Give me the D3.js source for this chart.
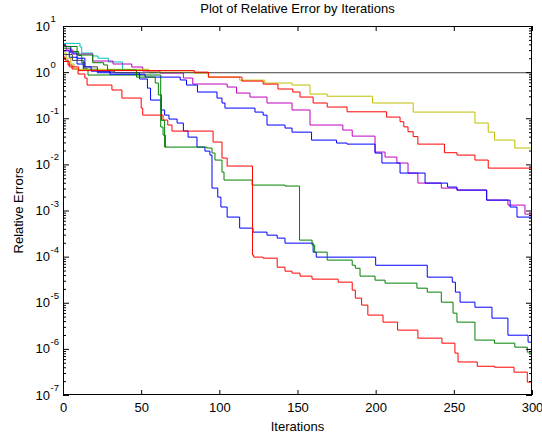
<!DOCTYPE html>
<html>
<head>
<meta charset="utf-8">
<script src="https://cdn.jsdelivr.net/npm/d3@7/dist/d3.min.js"></script>
<style>
  html, body { margin: 0; padding: 0; background: #fff; }
  svg { display: block; font-family: "Liberation Sans", Arial, sans-serif; }
</style>
</head>
<body>
<svg id="chart" width="542" height="436"></svg>
<script>
// ---------- data (iteration where a new value starts, relative error) ----------
const iterTicks = [0, 50, 100, 150, 200, 250, 300];
const yTickExps = [-7, -6, -5, -4, -3, -2, -1, 0, 1];

const blue1Iter = [0, 4, 9, 13, 22, 49, 54, 56, 62.7, 65, 67.8, 73, 77, 80, 85.7, 90.8, 94, 95.3, 99, 101, 105, 113, 121.5, 130.5, 137, 142, 160, 162, 200, 233, 249, 251, 254, 263.5, 274.4, 284.6, 297.5, 300];
const blue1Err  = [2.9, 2.1, 1.5, 1.15, 0.97, 0.71, 0.45, 0.248, 0.151, 0.117, 0.096, 0.0787, 0.053, 0.039, 0.0237, 0.0194, 0.0159, 0.00306, 0.00195, 0.00119, 7.2e-4, 4.15e-4, 3.4e-4, 2.92e-4, 2.52e-4, 1.96e-4, 1.25e-4, 9.75e-5, 6.5e-5, 3.59e-5, 2.8e-5, 1.7e-5, 1.03e-5, 8.0e-6, 4.64e-6, 1.98e-6, 1.4e-6, 1.4e-6];

const green1Iter = [0, 5, 10, 12, 14, 16, 62.5, 64, 65.5, 92, 95.3, 97.2, 101.7, 103, 121, 142, 151.3, 159.3, 161, 169, 185, 187, 190, 199.6, 206, 226.4, 233, 242, 249.5, 252, 263.5, 276, 289, 297, 300];
const green1Err  = [3.3, 2.8, 2.3, 1.6, 1.17, 0.865, 0.0646, 0.0432, 0.0237, 0.0226, 0.0176, 0.0124, 0.0068, 0.00457, 0.00356, 0.00339, 2.28e-4, 1.78e-4, 1.25e-4, 8.4e-5, 6.5e-5, 5.6e-5, 3.78e-5, 3.09e-5, 2.66e-5, 2.07e-5, 1.7e-5, 1.03e-5, 5.95e-6, 3.8e-6, 1.55e-6, 1.33e-6, 1.09e-6, 8.5e-7, 8.5e-7];

const red1Iter = [0, 1.3, 3.2, 5.8, 9.6, 14, 15.4, 31.3, 37.7, 50, 51, 64, 67, 69.7, 96, 101.7, 105, 121.2, 122, 128, 137, 142, 146.5, 151.6, 159.3, 176, 185, 187, 191, 195, 204.7, 214, 227, 242.4, 250.7, 252.7, 265, 276, 288.5, 297, 300];
const red1Err  = [2.13, 1.83, 1.43, 1.17, 0.91, 0.745, 0.525, 0.41, 0.274, 0.166, 0.117, 0.0914, 0.0713, 0.0527, 0.0305, 0.0137, 0.0092, 1.08e-4, 9.75e-5, 9.27e-5, 5.9e-5, 4.84e-5, 4.39e-5, 3.78e-5, 3.25e-5, 2.8e-5, 1.88e-5, 1.26e-5, 8.9e-6, 5.4e-6, 3.8e-6, 2.55e-6, 1.71e-6, 1.33e-6, 8.1e-7, 5.2e-7, 4.2e-7, 4.0e-7, 3.13e-7, 1.9e-7, 1.9e-7];

const cyanIter = [0, 10.9, 12, 19, 22.4, 29, 38, 55, 60];
const cyanErr  = [4.2, 3.5, 2.6, 2.24, 2.0, 1.66, 1.11, 0.97, 0.97];

const magentaIter = [0, 2, 6.4, 19, 32, 44, 51, 62, 77, 83, 105, 111, 119.6, 130.5, 146.5, 158, 179, 185, 199.6, 206, 213.6, 220.7, 227, 242, 252, 271, 284.6, 295.5, 300];
const magentaErr  = [3.8, 3.0, 2.47, 1.74, 1.5, 1.29, 1.06, 0.955, 0.745, 0.552, 0.475, 0.352, 0.288, 0.214, 0.151, 0.0713, 0.0555, 0.041, 0.0185, 0.0144, 0.0107, 0.00648, 0.00393, 0.00306, 0.00277, 0.00168, 0.00131, 8.35e-4, 8.35e-4];

const yellowIter = [0, 2, 5, 7, 55, 84, 93, 113, 129, 146.5, 158, 169, 198, 224, 263.5, 272, 276, 289, 300];
const yellowErr  = [2.6, 2.0, 1.5, 1.15, 1.0, 0.95, 0.78, 0.67, 0.58, 0.525, 0.335, 0.30, 0.214, 0.136, 0.0787, 0.050, 0.0336, 0.0226, 0.0226];

const blackIter = [0, 6, 13, 22, 33, 300];
const blackErr  = [2.4, 1.8, 1.3, 1.05, 0.97, 0.97];

const blue2Iter = [0, 5, 9, 14, 18, 30, 52.5, 75, 79, 86, 98.5, 101.7, 103.6, 122.8, 128, 130.5, 142, 146.5, 159, 175, 181.7, 199.6, 204, 215.6, 231.6, 246, 252, 271, 286, 290.4, 300];
const blue2Err  = [3.6, 2.6, 2.0, 1.3, 1.05, 0.9, 0.78, 0.675, 0.525, 0.37, 0.274, 0.214, 0.166, 0.136, 0.117, 0.0713, 0.0613, 0.050, 0.0336, 0.029, 0.0275, 0.0176, 0.0107, 0.00648, 0.00393, 0.00322, 0.00277, 0.00168, 0.00119, 7.2e-4, 7.2e-4];

const green2Iter = [0, 9, 19, 26, 28.5, 47, 59, 61, 63, 65, 66];
const green2Err  = [3.6, 2.35, 1.6, 1.43, 1.11, 0.78, 0.58, 0.32, 0.09, 0.0237, 0.0237];

const red2Iter = [0, 4, 10, 84, 93, 114.5, 128, 137.5, 147, 151.6, 160, 169, 181.7, 207, 215.6, 218, 220.7, 224, 227, 244, 252, 263.5, 272, 300];
const red2Err  = [1.7, 1.3, 1.08, 1.0, 0.78, 0.64, 0.55, 0.43, 0.37, 0.288, 0.214, 0.175, 0.138, 0.106, 0.084, 0.065, 0.051, 0.04, 0.0275, 0.0179, 0.0159, 0.0124, 0.0083, 0.0083];

const seriesColors = ["#0000ff", "#008000", "#ff0000", "#00bfbf", "#bf00bf", "#bfbf00", "#404040", "#0000ff", "#008000", "#ff0000"];
const seriesIters = [blue1Iter, green1Iter, red1Iter, cyanIter, magentaIter, yellowIter, blackIter, blue2Iter, green2Iter, red2Iter];
const seriesErrs  = [blue1Err, green1Err, red1Err, cyanErr, magentaErr, yellowErr, blackErr, blue2Err, green2Err, red2Err];

// ---------- layout ----------
const W = 542, H = 436;
const m = { left: 63, right: 10, top: 26, bottom: 41 };
const pw = W - m.left - m.right, ph = H - m.top - m.bottom;

const svg = d3.select("#chart");
svg.append("rect").attr("width", W).attr("height", H).attr("fill", "#fff");

const x = d3.scaleLinear().domain([0, 300]).range([m.left, m.left + pw]);
const y = d3.scaleLog().domain([1e-7, 10]).range([m.top + ph, m.top]);

svg.append("defs").append("clipPath").attr("id", "clip")
  .append("rect").attr("x", m.left).attr("y", m.top).attr("width", pw).attr("height", ph);

// ---------- lines ----------
const line = d3.line()
  .x(d => x(d[0]))
  .y(d => y(d[1]))
  .curve(d3.curveStepAfter);

const gLines = svg.append("g").attr("clip-path", "url(#clip)");
seriesIters.forEach((it, i) => {
  const pts = it.map((v, j) => [v, seriesErrs[i][j]]);
  gLines.append("path")
    .attr("d", line(pts))
    .attr("fill", "none")
    .attr("stroke", seriesColors[i])
    .attr("stroke-width", 1);
});

// ---------- axes ----------
const majors = yTickExps.map(e => Math.pow(10, e));
const minors = [];
yTickExps.slice(0, -1).forEach(e => { for (let k = 2; k <= 9; k++) minors.push(k * Math.pow(10, e)); });

function styleAxis(g) {
  g.select(".domain").remove();
  g.selectAll("line").attr("stroke", "#000");
  g.selectAll("text").attr("fill", "#000").attr("font-size", 13)
    .attr("font-family", "'Liberation Sans', Arial, sans-serif");
}

svg.append("g").attr("transform", `translate(0,${m.top + ph})`)
  .call(d3.axisBottom(x).tickValues(iterTicks).tickSizeInner(-5).tickSizeOuter(0).tickPadding(7.5).tickFormat(d3.format("d")))
  .call(styleAxis);
svg.append("g").attr("transform", `translate(0,${m.top})`)
  .call(d3.axisTop(x).tickValues(iterTicks).tickSizeInner(-5).tickSizeOuter(0).tickFormat(""))
  .call(styleAxis);
svg.append("g").attr("transform", `translate(${m.left},0)`)
  .call(d3.axisLeft(y).tickValues(majors).tickSizeInner(-6).tickSizeOuter(0).tickFormat(""))
  .call(styleAxis);
svg.append("g").attr("transform", `translate(${m.left},0)`)
  .call(d3.axisLeft(y).tickValues(minors).tickSizeInner(-3).tickSizeOuter(0).tickFormat(""))
  .call(styleAxis);
svg.append("g").attr("transform", `translate(${m.left + pw},0)`)
  .call(d3.axisRight(y).tickValues(majors).tickSizeInner(-6).tickSizeOuter(0).tickFormat(""))
  .call(styleAxis);
svg.append("g").attr("transform", `translate(${m.left + pw},0)`)
  .call(d3.axisRight(y).tickValues(minors).tickSizeInner(-3).tickSizeOuter(0).tickFormat(""))
  .call(styleAxis);

// box
svg.append("rect").attr("x", m.left + 0.5).attr("y", m.top + 0.5)
  .attr("width", pw - 1).attr("height", ph - 1)
  .attr("fill", "none").attr("stroke", "#000").attr("stroke-width", 1);

// y tick labels 10^e
const yl = svg.append("g").attr("font-size", 13).attr("fill", "#000");
yTickExps.forEach(e => {
  const ty = y(Math.pow(10, e));
  yl.append("text").attr("x", 50).attr("y", ty + 4.6).attr("text-anchor", "end").text("10");
  yl.append("text").attr("x", 50.5).attr("y", ty - 4).attr("font-size", 9.5).text(String(e));
});

// titles
svg.append("text").attr("x", x(150)).attr("y", 13).attr("text-anchor", "middle")
  .attr("font-size", 13).attr("fill", "#000").text("Plot of Relative Error by Iterations");
svg.append("text").attr("x", x(150)).attr("y", 431).attr("text-anchor", "middle")
  .attr("font-size", 13).attr("fill", "#000").text("Iterations");
svg.append("text").attr("transform", `translate(23,${(m.top + m.top + ph) / 2}) rotate(-90)`)
  .attr("text-anchor", "middle").attr("font-size", 13).attr("fill", "#000").text("Relative Errors");
</script>
</body>
</html>
